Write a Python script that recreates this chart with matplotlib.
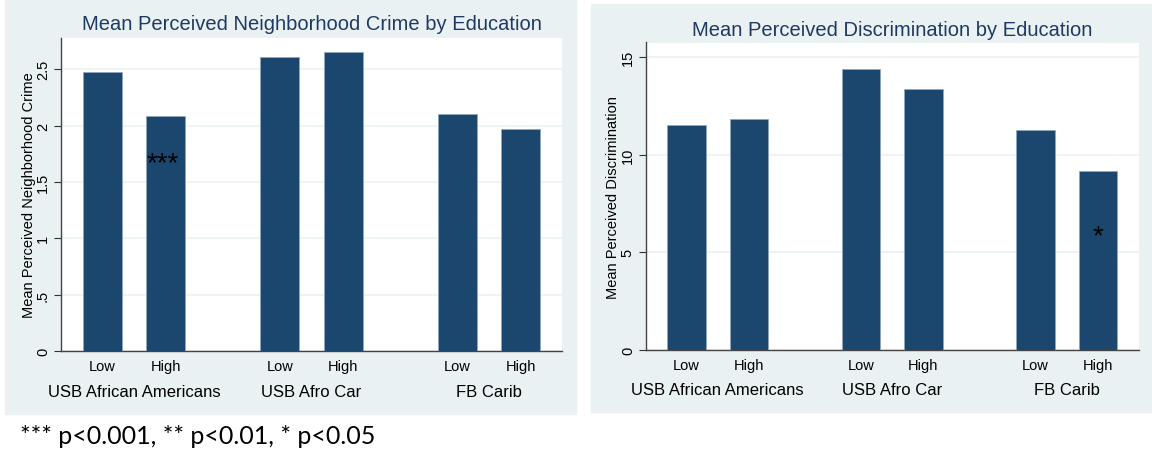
import matplotlib
matplotlib.use("Agg")
from matplotlib import pyplot as plt
from matplotlib.patches import Rectangle
from matplotlib.transforms import blended_transform_factory

groups = ["USB African Americans", "USB Afro Car", "FB Carib"]
levels = ["Low", "High"]
crime = [2.476, 2.086, 2.609, 2.651, 2.10, 1.968]
discrim = [11.50, 11.82, 14.39, 13.37, 11.26, 9.15]
crime_ticks = [0, 0.5, 1, 1.5, 2, 2.5]
crime_tick_labels = ["0", ".5", "1", "1.5", "2", "2.5"]
discrim_ticks = [0, 5, 10, 15]
discrim_tick_labels = ["0", "5", "10", "15"]
footnote = "*** p<0.001, ** p<0.01, * p<0.05"

BG = "#EAF1F3"
BAR = "#1B476E"
TITLE = "#1E3A63"
GRID = "#EAF2F3"

plt.rcParams["font.family"] = ["Liberation Sans", "DejaVu Sans"]


def draw_panel(fig, rect, values, ticks, tick_labels, ymax, title, ylabel,
               star, title_y, label_x):
    ax = fig.add_axes(rect)
    ax.set_zorder(2)
    ax.set_facecolor("white")
    pos = [0, 1, 2.8, 3.8, 5.6, 6.6]
    ax.bar(pos, values, width=0.62, color=BAR, edgecolor="#8FA7BD",
           linewidth=0.6, zorder=3)
    ax.set_xlim(-0.65, 7.25)
    ax.set_ylim(0, ymax)
    ax.set_yticks(ticks)
    ax.set_yticklabels(tick_labels, rotation=90, va="center", fontsize=10.5)
    ax.tick_params(axis="y", length=5, width=0.8, color="#333333", pad=3)
    ax.set_xticks(pos)
    ax.set_xticklabels(levels * 3, fontsize=10.5)
    ax.tick_params(axis="x", length=0, pad=6)
    ax.yaxis.grid(True, color=GRID, linewidth=1.2, zorder=0)
    ax.set_axisbelow(True)
    for s in ["top", "right"]:
        ax.spines[s].set_visible(False)
    for s in ["left", "bottom"]:
        ax.spines[s].set_color("#444444")
        ax.spines[s].set_linewidth(1.0)
    ax.set_ylabel(ylabel, fontsize=10.5)
    ax.yaxis.set_label_coords(label_x, 0.5)
    trans = blended_transform_factory(ax.transData, ax.transAxes)
    for i, g in enumerate(groups):
        ax.text((pos[2 * i] + pos[2 * i + 1]) / 2, -0.13, g, transform=trans,
                ha="center", va="center", fontsize=12)
    # significance stars
    ax.text(star[0], star[1], star[2], ha="center", va="baseline",
            fontsize=20, color="black", zorder=4)
    fig.text((rect[0] + rect[0] + rect[2]) / 2, title_y, title, ha="center",
             va="center", fontsize=14.5, color=TITLE)
    return ax


def main():
    fig = plt.figure(figsize=(11.52, 4.52), dpi=100)
    W, H = 1152, 452
    # panel backgrounds
    fig.patches.append(Rectangle((5 / W, 1 - 415 / H), 571 / W, 415 / H,
                                 transform=fig.transFigure, color=BG,
                                 zorder=-1))
    fig.patches.append(Rectangle((591 / W, 1 - 413 / H), 561 / W, 408 / H,
                                 transform=fig.transFigure, color=BG,
                                 zorder=-1))

    draw_panel(fig, [61 / W, 1 - 352 / H, 501 / W, 313 / H], crime,
               crime_ticks, crime_tick_labels, 2.777,
               "Mean Perceived Neighborhood Crime by Education",
               "Mean Perceived Neighborhood Crime",
               (0.95, 1.60, "***"), 1 - 25 / H, -0.05)
    draw_panel(fig, [646 / W, 1 - 351 / H, 492.5 / W, 307.5 / H], discrim,
               discrim_ticks, discrim_tick_labels, 15.74,
               "Mean Perceived Discrimination by Education",
               "Mean Perceived Discrimination",
               (6.6, 5.47, "*"), 1 - 31 / H, -0.053)

    fig.text(20 / W, 1 - 437 / H, footnote, ha="left", va="center",
             fontsize=18, family=["Lato", "DejaVu Sans"])
    fig.savefig("out.png", dpi=100)


if __name__ == "__main__":
    main()
